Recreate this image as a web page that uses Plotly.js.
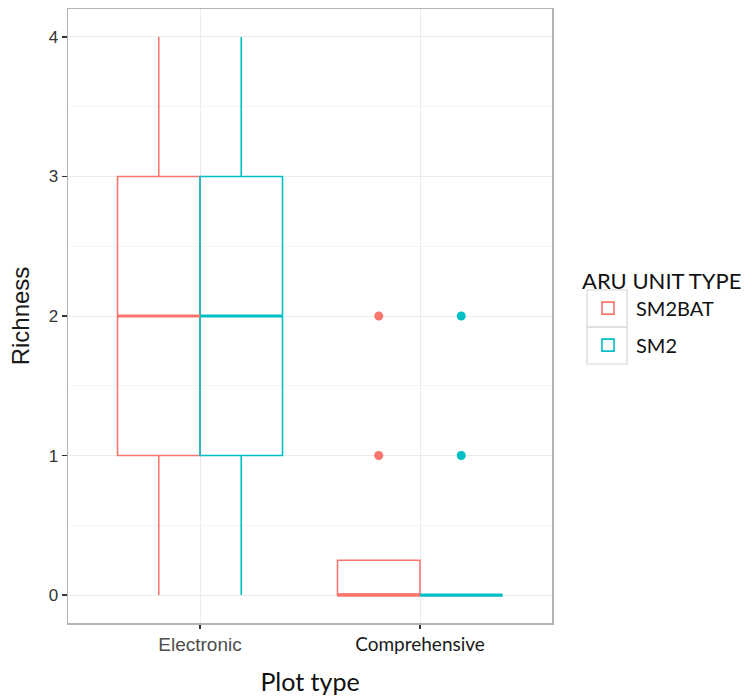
<!DOCTYPE html>
<html><head><meta charset="utf-8">
<script src="https://cdn.plot.ly/plotly-3.0.1.min.js"></script>
<style>html,body{margin:0;padding:0;background:#fff}#chart{width:753px;height:700px}</style>
</head><body><div id="chart"></div>
<script>
// ---- data ----
const categories = ['Electronic', 'Comprehensive'];
const categoryLabels = ['Electronic', '<span style="font-family:Lato;color:#1a1a1a">Comprehensive</span>'];
const seriesNames = ['SM2BAT', 'SM2'];
const seriesColors = ['#F8766D', '#00BFC4'];

const sm2batQ1 = [1, 0];
const sm2batMedian = [2, 0];
const sm2batQ3 = [3, 0.25];
const sm2batLower = [0, 0];
const sm2batUpper = [4, 0.25];
const sm2batOutliers = [[], [1, 2]];

const sm2Q1 = [1, 0];
const sm2Median = [2, 0];
const sm2Q3 = [3, 0];
const sm2Lower = [0, 0];
const sm2Upper = [4, 0];
const sm2Outliers = [[], [1, 2]];

const yTicks = [0, 1, 2, 3, 4];

// ---- build ----
const stats = [
  {q1: sm2batQ1, med: sm2batMedian, q3: sm2batQ3, lo: sm2batLower, hi: sm2batUpper, out: sm2batOutliers},
  {q1: sm2Q1, med: sm2Median, q3: sm2Q3, lo: sm2Lower, hi: sm2Upper, out: sm2Outliers}
];
const dodge = 0.75;
const boxW = dodge / seriesNames.length;
const catPos = categories.map((c, i) => i + 1);
const posOf = (s, i) => catPos[i] + (s - (seriesNames.length - 1) / 2) * boxW;

const traces = [];
stats.forEach((st, s) => {
  const xs = categories.map((c, i) => posOf(s, i));
  traces.push({
    type: 'box', name: seriesNames[s], legendgroup: seriesNames[s],
    x: xs, q1: st.q1, median: st.med, q3: st.q3, lowerfence: st.lo, upperfence: st.hi,
    width: boxW, whiskerwidth: 0,
    line: {color: seriesColors[s], width: 1.6},
    fillcolor: 'rgba(255,255,255,0)',
    boxpoints: false, hoverinfo: 'skip'
  });
});
// thicker median segments (ggplot fatten)
stats.forEach((st, s) => {
  const mx = [], my = [];
  categories.forEach((c, i) => {
    const p = posOf(s, i);
    mx.push(p - boxW / 2, p + boxW / 2, null);
    my.push(st.med[i], st.med[i], null);
  });
  traces.push({type: 'scatter', mode: 'lines', x: mx, y: my, showlegend: false, hoverinfo: 'skip',
    line: {color: seriesColors[s], width: 3.2}});
});
// outliers
stats.forEach((st, s) => {
  const ox = [], oy = [];
  categories.forEach((c, i) => {
    st.out[i].forEach(v => { ox.push(posOf(s, i)); oy.push(v); });
  });
  traces.push({type: 'scatter', mode: 'markers', x: ox, y: oy, showlegend: false, hoverinfo: 'skip',
    marker: {color: seriesColors[s], size: 9}});
});

// legend key frames (ggplot-style legend.key borders), in pixel-derived paper coords
const plotL = 68, plotW = 484, plotB = 623, plotH = 614;
const px = v => (v - plotL) / plotW;
const py = v => (plotB - v) / plotH;
const keyShapes = [[290, 327], [327, 364]].map(([t, b]) => ({
  type: 'rect', xref: 'paper', yref: 'paper', layer: 'below',
  x0: px(587), x1: px(627), y0: py(b), y1: py(t),
  line: {color: '#d6d6d6', width: 1.2}, fillcolor: 'rgba(0,0,0,0)'
}));

const layout = {
  width: 753, height: 700,
  margin: {l: 68, r: 201, t: 9, b: 77},
  paper_bgcolor: '#fff', plot_bgcolor: '#fff',
  font: {family: 'Liberation Sans, Arial, sans-serif', color: '#4d4d4d'},
  boxmode: 'overlay',
  showlegend: true,
  shapes: keyShapes,
  xaxis: {
    range: [0.4, 2.6], tickvals: catPos, ticktext: categoryLabels,
    showgrid: true, gridcolor: '#ebebeb', gridwidth: 1,
    zeroline: false, showline: true, mirror: true, linecolor: '#b3b3b3', linewidth: 1.5,
    ticks: 'outside', ticklen: 4, tickwidth: 1.5, tickcolor: '#333',
    tickfont: {size: 19, color: '#4d4d4d'},
    title: {text: 'Plot type', font: {family: 'Lato, sans-serif', size: 25, color: '#111'}, standoff: 19}
  },
  yaxis: {
    range: [-0.2, 4.2], tickvals: yTicks,
    showgrid: true, gridcolor: '#ebebeb', gridwidth: 1,
    minor: {dtick: 0.5, tick0: 0, showgrid: true, gridcolor: '#f3f3f3', gridwidth: 0.8, ticks: ''},
    zeroline: false, showline: true, mirror: true, linecolor: '#b3b3b3', linewidth: 1.5,
    ticks: 'outside', ticklen: 5, tickwidth: 1.5, tickcolor: '#333',
    tickfont: {size: 17, color: '#333'},
    title: {text: 'Richness', font: {size: 24, color: '#1a1a1a'}, standoff: 12}
  },
  legend: {
    x: px(580), xanchor: 'left', y: py(260), yanchor: 'top',
    itemwidth: 46,
    title: {text: 'ARU UNIT TYPE', font: {family: 'Lato, sans-serif', size: 22, color: '#111'}},
    font: {family: 'Lato, sans-serif', size: 20, color: '#111'},
    tracegroupgap: 8, bgcolor: 'rgba(0,0,0,0)'
  }
};
Plotly.newPlot('chart', traces, layout, {displayModeBar: false, staticPlot: true});
</script>
</body></html>
